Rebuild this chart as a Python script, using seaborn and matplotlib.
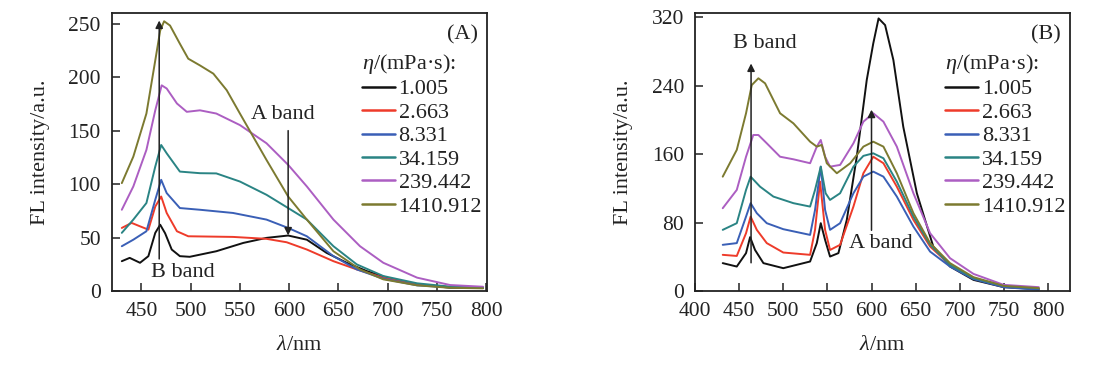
import numpy as np
import pandas as pd
import matplotlib
matplotlib.use("Agg")
import matplotlib.pyplot as plt
import seaborn as sns

# ---------------- data ----------------
eta_labels = ["1.005", "2.663", "8.331", "34.159", "239.442", "1410.912"]
line_colors = ["#111111", "#ee3b2a", "#3a5fb6", "#2a8484", "#ac5ec2", "#7c7a30"]

# Panel A
a_wl_1 = [430, 438, 448.5, 457, 464, 469, 474, 480.7, 489, 499, 526, 553.5, 577, 599, 618, 638, 658.5, 679, 702.5, 729.7, 763.5, 797]
a_fl_1 = [27.9, 31, 26.4, 32.6, 54.4, 62, 54, 38.8, 32.6, 32, 37.2, 45, 49.7, 51.9, 48, 35.7, 26.4, 18.6, 11.5, 6.2, 3.1, 3]
a_wl_2 = [430, 440, 448.5, 457, 464, 470, 475.6, 486, 497.5, 543, 577, 597.5, 618, 645, 668.7, 695.7, 730, 763.5, 797]
a_fl_2 = [59, 63.7, 60.5, 57.4, 79, 88.4, 73, 55.9, 51.2, 50.6, 48.8, 45.6, 38.8, 27.9, 20.2, 12.5, 6.2, 3.7, 3]
a_wl_3 = [430, 441.7, 455, 464, 470, 475.6, 489, 509.4, 543, 577, 599, 618, 645, 668.7, 695.7, 730, 763.5, 797]
a_fl_3 = [41.9, 48, 55.9, 85.4, 104, 91.6, 77.6, 76, 73, 66.8, 59, 51.2, 32.6, 20.2, 11.5, 5.3, 3.4, 3]
a_wl_4 = [430, 441.7, 455, 464, 470, 475.6, 489, 509.4, 526, 550, 577, 599, 618, 645, 668.7, 695.7, 730, 763.5, 797]
a_fl_4 = [54.4, 66.8, 82.3, 116.4, 136.6, 128.8, 111.7, 110.2, 110, 102.4, 90, 77.6, 66.8, 41.9, 24.9, 14, 7.2, 4.1, 3]
a_wl_5 = [430, 441.7, 455, 464, 470.5, 475.6, 486, 496, 509.4, 526, 550, 577, 599, 618, 645, 672, 695.7, 730, 763.5, 797]
a_fl_5 = [76, 97.8, 132, 169, 192.4, 189.4, 175.4, 167.6, 169, 166, 155.2, 138.2, 118, 97.8, 66.8, 41.9, 26.4, 12.5, 5.6, 4]
a_wl_6 = [430, 441.7, 455, 464, 469, 473, 479, 489, 497.5, 509.4, 523, 536.6, 550, 577, 599, 618, 645, 672, 695.7, 730, 763.5, 797]
a_fl_6 = [100.9, 125.7, 166, 215.7, 243.6, 252.3, 248.3, 231.3, 217.3, 211, 203.3, 187.8, 166, 122.6, 88.4, 66.8, 37.2, 20.2, 10.9, 5.3, 3, 2.5]

# Panel B
b_wl_1 = [431.4, 447.3, 457.8, 462.4, 468, 477.5, 500, 530.4, 538, 542.5, 547.4, 553, 562.5, 572, 583.3, 594.6, 602, 608, 615.4, 624.8, 636, 651.4, 670, 689, 715.6, 749.8, 789.6]
b_fl_1 = [32.6, 28.6, 44.3, 63, 48, 32.6, 26.7, 34.5, 56, 79.3, 59.8, 40.3, 44.3, 83.2, 157, 246.7, 289.5, 318.7, 310.9, 270, 192, 114.3, 52, 28.6, 13, 4.5, 2.2]
b_wl_2 = [431.4, 447.3, 457.8, 463, 470, 481.3, 500, 530.4, 536, 541.7, 547.4, 553, 564.4, 579.5, 590.8, 602, 613.5, 628.7, 647.5, 666.4, 689, 715.6, 749.8, 789.6]
b_fl_2 = [42.3, 41, 67.6, 87, 71.5, 56, 45, 42.3, 71.5, 127.9, 71.5, 48, 54, 98.7, 137.7, 157, 149.4, 122, 83.2, 52, 30.6, 15, 5.3, 2.2]
b_wl_3 = [431.4, 447.3, 457.8, 463, 470, 481.3, 500, 530.4, 536, 542.5, 547.4, 553, 564.4, 579.5, 590.8, 602, 613.5, 628.7, 647.5, 666.4, 689, 715.6, 749.8, 789.6]
b_fl_3 = [54, 56, 87, 102.7, 91, 79.3, 72.3, 65.6, 94.8, 145.4, 94.8, 71.5, 79.3, 114.3, 133.7, 139.6, 133.7, 110.4, 75.3, 46.1, 28.6, 13.9, 4.5, 1.4]
b_wl_4 = [431.4, 447.3, 457.8, 463, 473.7, 488.8, 511.5, 530.4, 536, 542.5, 548, 553, 564.4, 579.5, 590.8, 602, 613.5, 628.7, 647.5, 666.4, 689, 715.6, 749.8, 789.6]
b_fl_4 = [71.5, 79.3, 118.2, 133.7, 122, 110.4, 102.7, 98.7, 118.2, 145.4, 114.3, 106.5, 114.3, 145.4, 158, 161, 155.2, 127.9, 87, 54, 30.6, 15, 6, 3]
b_wl_5 = [431.4, 447.3, 457.8, 466, 471.8, 481.3, 496.4, 511.5, 530.4, 538, 542.5, 547.4, 553, 564.4, 579.5, 590.8, 602, 613.5, 628.7, 647.5, 666.4, 689, 715.6, 749.8, 789.6]
b_fl_5 = [96.8, 118.2, 157, 182.4, 182.4, 172.7, 157, 154, 149.4, 168.8, 176.6, 157, 145.4, 147.4, 172.7, 198, 207.8, 198, 168.8, 114.3, 67.6, 38.4, 20, 7.2, 4.5]
b_wl_6 = [431.4, 447.3, 457.8, 464.3, 471.8, 479.4, 496.4, 511.5, 530.4, 538, 543.6, 549.3, 560.7, 575.9, 590.8, 602, 613.5, 628.7, 647.5, 666.4, 689, 715.6, 749.8, 789.6]
b_fl_6 = [133.7, 165, 207.8, 240.8, 248.7, 242.8, 207.8, 196, 174.6, 168.8, 170.8, 149.4, 137.7, 149.4, 168.8, 174.6, 168.8, 137.7, 91, 56, 32.6, 16.2, 6, 3.4]

a_wls = [a_wl_1, a_wl_2, a_wl_3, a_wl_4, a_wl_5, a_wl_6]
a_fls = [a_fl_1, a_fl_2, a_fl_3, a_fl_4, a_fl_5, a_fl_6]
b_wls = [b_wl_1, b_wl_2, b_wl_3, b_wl_4, b_wl_5, b_wl_6]
b_fls = [b_fl_1, b_fl_2, b_fl_3, b_fl_4, b_fl_5, b_fl_6]


def to_frame(wls, fls):
    parts = []
    for lab, w, f in zip(eta_labels, wls, fls):
        parts.append(pd.DataFrame({"wl": w, "fl": f, "eta": lab}))
    return pd.concat(parts, ignore_index=True)


df_a = to_frame(a_wls, a_fls)
df_b = to_frame(b_wls, b_fls)

# ---------------- style ----------------
sns.set_style("ticks")
plt.rcParams["font.family"] = ["Liberation Serif", "DejaVu Serif"]
plt.rcParams["mathtext.fontset"] = "custom"
plt.rcParams["mathtext.rm"] = "Liberation Serif"
plt.rcParams["mathtext.it"] = "Liberation Serif:italic"
plt.rcParams["text.color"] = "#222222"
plt.rcParams["axes.labelcolor"] = "#222222"
plt.rcParams["lines.solid_joinstyle"] = "round"
plt.rcParams["lines.solid_capstyle"] = "round"

FS = 16
TFS = 15.5

fig = plt.figure(figsize=(11.02, 3.65), dpi=100)
ax_a = fig.add_axes([0.1016, 0.2027, 0.3403, 0.7616])
ax_b = fig.add_axes([0.6307, 0.2027, 0.3403, 0.7616])

palette = dict(zip(eta_labels, line_colors))

for ax, df in [(ax_a, df_a), (ax_b, df_b)]:
    sns.lineplot(data=df, x="wl", y="fl", hue="eta", hue_order=eta_labels,
                 palette=palette, estimator=None, lw=1.4, ax=ax)
    for s in ax.spines.values():
        s.set_visible(True)
        s.set_linewidth(1.3)
        s.set_color("#222222")
    ax.tick_params(direction="in", length=6, width=1.1, labelsize=TFS,
                   top=False, right=False, colors="#222222", pad=8)
    ax.set_xlabel(r"$\it{\lambda}$/nm", fontsize=FS, labelpad=11)
    ax.set_ylabel("FL intensity/a.u.", fontsize=FS, labelpad=13)
    handles, labels = ax.get_legend_handles_labels()
    leg = ax.legend(handles, labels, title=r"$\it{\eta}$/(mPa·s):",
                    fontsize=FS, title_fontsize=FS, frameon=False,
                    loc="upper right", bbox_to_anchor=(0.987, 0.86),
                    borderaxespad=0, borderpad=0, labelspacing=0.13,
                    handlelength=1.5, handletextpad=0.15,
                    alignment="left")
    for h in leg.get_lines():
        h.set_linewidth(1.8)

# Panel A
ax_a.set_xlim(420, 801)
ax_a.set_ylim(0, 260)
ax_a.set_xticks(np.arange(450, 801, 50))
ax_a.set_yticks(np.arange(0, 251, 50))
ax_a.text(0.975, 0.955, "(A)", transform=ax_a.transAxes, ha="right", va="top", fontsize=FS)
arrow = dict(arrowstyle="-|>", color="#222222", lw=1.1, mutation_scale=11, shrinkA=0, shrinkB=0)
ax_a.annotate("", xy=(468, 253), xytext=(468, 30), arrowprops=arrow)
ax_a.text(492, 17, "B band", ha="center", va="center", fontsize=FS)
ax_a.annotate("", xy=(599, 52), xytext=(599, 150), arrowprops=arrow)
ax_a.text(594, 165, "A band", ha="center", va="center", fontsize=FS)

# Panel B
ax_b.set_xlim(400, 825)
ax_b.set_ylim(0, 325)
ax_b.set_xticks(np.arange(400, 801, 50))
ax_b.set_yticks(np.arange(0, 321, 80))
ax_b.text(0.975, 0.955, "(B)", transform=ax_b.transAxes, ha="right", va="top", fontsize=FS)
ax_b.annotate("", xy=(463.5, 266), xytext=(463.5, 33), arrowprops=arrow)
ax_b.text(479, 289, "B band", ha="center", va="center", fontsize=FS)
ax_b.annotate("", xy=(600, 212), xytext=(600, 71), arrowprops=arrow)
ax_b.text(610, 56, "A band", ha="center", va="center", fontsize=FS)

fig.savefig("out.png", dpi=100)
